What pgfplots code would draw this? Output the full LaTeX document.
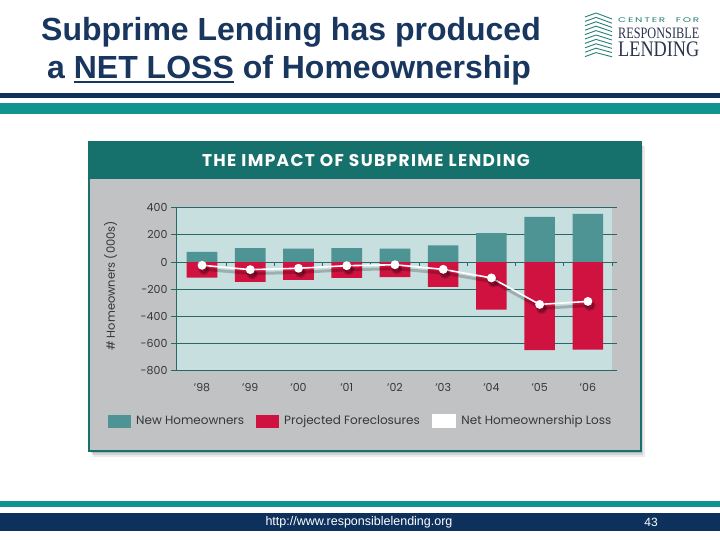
\documentclass[border=0pt]{standalone}
\usepackage{fontspec}
\setmainfont{Liberation Sans}
\newfontfamily\futura{Poppins}
\newfontfamily\futuraspaced[LetterSpace=8]{Poppins}
\newfontfamily\logoserif{Liberation Serif}
\usepackage{pgfplots}
\pgfplotsset{compat=1.18}
\definecolor{navy}{RGB}{14,48,92}
\definecolor{titlenavy}{RGB}{24,54,94}
\definecolor{bandteal}{RGB}{16,148,144}
\definecolor{headteal}{RGB}{22,112,108}
\definecolor{panelgray}{RGB}{192,194,195}
\definecolor{plotbg}{RGB}{200,223,223}
\definecolor{gridc}{RGB}{42,104,104}
\definecolor{tealbar}{RGB}{78,148,148}
\definecolor{redbar}{RGB}{208,18,64}
\definecolor{ticktext}{RGB}{55,55,55}
\definecolor{logonavy}{RGB}{44,52,78}
\definecolor{logoteal}{RGB}{40,128,118}
\begin{document}
\begin{tikzpicture}[x=1pt,y=1pt]
\useasboundingbox (0,0) rectangle (720,540);
\fill[white] (0,0) rectangle (720,540);
% title
\node[anchor=base, text=titlenavy, font=\fontsize{32}{36}\selectfont\bfseries] at (291,499) {Subprime Lending has produced};
\node[anchor=base, text=titlenavy, font=\fontsize{32}{36}\selectfont\bfseries] at (289,461) {a {\setbox0\hbox{NET LOSS}\rlap{\rule[-4.5pt]{\wd0}{2.2pt}}\box0} of Homeownership};
% logo
\foreach \i in {0,...,9}{
  \draw[logoteal, line width=0.9pt] (585,{523-\i*4.4}) -- (596,{527-\i*4.4}) -- (612,{521-\i*4.4+\i*0.2});
}
\node[anchor=north west, inner sep=0pt, align=left, font=\fontsize{1}{1}\selectfont] at (618,522.7) {%
  \textcolor{logoteal}{\resizebox{81pt}{4.8pt}{\futura C\,E\,N\,T\,E\,R\quad F\,O\,R}}\\[5pt]
  \textcolor{logonavy}{\resizebox{81pt}{10.5pt}{\logoserif RESPONSIBLE}}\\[2pt]
  \textcolor{logonavy}{\resizebox{81pt}{14.5pt}{\logoserif LENDIN\smash{G}}}};
% header bands
\fill[navy] (0,442) rectangle (720,447);
\fill[bandteal] (0,426) rectangle (720,437);
% footer bands
\fill[bandteal] (0,33) rectangle (720,39);
\fill[navy] (0,9) rectangle (720,27);
\node[text=white, font=\fontsize{12.5}{14}\selectfont] at (359,18) {http://www.responsiblelending.org};
\node[text=white, font=\fontsize{12}{14}\selectfont] at (651,18) {43};
% panel shadow
\fill[black, opacity=0.08] (93,83) rectangle (645,394);
\fill[black, opacity=0.10] (92,85) rectangle (643,395);
\fill[black, opacity=0.14] (91,87) rectangle (642,396);
% panel
\fill[panelgray, draw=headteal, line width=1.2pt] (89,89) rectangle (641,398);
\fill[headteal] (89,361) rectangle (641,398);
\node[text=white, font=\futuraspaced\bfseries\fontsize{17}{20}\selectfont] at (366,379) {THE IMPACT OF SUBPRIME LENDING};
\begin{axis}[
  at={(176pt,169.3pt)}, anchor=south west, scale only axis,
  width=436pt, height=163pt,
  xmin=-0.54, xmax=8.5, ymin=-800, ymax=400,
  ytick={-800,-600,...,400},
  xtick={0,...,8},
  xticklabels={’98,’99,’00,’01,’02,’03,’04,’05,’06},
  ymajorgrids, grid style={color=gridc, line width=0.9pt},
  axis line style={draw=none},
  axis background/.style={fill=plotbg},
  tick align=outside, major tick length=5pt,
  ytick style={draw=gridc, line width=0.8pt},
  xtick style={draw=none},
  /pgf/number format/assume math mode=true,
  tick label style={font=\futura\fontsize{11}{13}\selectfont, text=ticktext},
  xticklabel style={yshift=-4pt},
  ylabel={\# Homeowners (000s)},
  every axis y label/.style={at={(axis description cs:-0.15,0.52)}, rotate=90, anchor=center,
    font=\futura\fontsize{11.5}{13}\selectfont, text=ticktext},
  clip=false,
  legend columns=3,
  legend style={at={(axis description cs:-0.163,-0.309)}, anchor=west, draw=none, fill=none,
    font=\futura\fontsize{12}{14}\selectfont, text=ticktext,
    /tikz/every odd column/.append style={column sep=3pt},
    /tikz/every even column/.append style={column sep=10pt}},
]
\draw[gridc, line width=1pt] (rel axis cs:0,0) -- (rel axis cs:0,1);
\addplot[ybar, bar width=30.6pt, bar shift=0pt, fill=tealbar, draw=none,
  legend image code/.code={\fill[tealbar] (0pt,-6.5pt) rectangle (23pt,6.5pt);}]
  coordinates {(0,75) (1,102) (2,98) (3,102) (4,98) (5,122) (6,212) (7,332) (8,354)};
\addlegendentry{New Homeowners}
\addplot[ybar, bar width=30.6pt, bar shift=0pt, fill=redbar, draw=none,
  legend image code/.code={\fill[redbar] (0pt,-6.5pt) rectangle (23pt,6.5pt);}]
  coordinates {(0,-115) (1,-146) (2,-132) (3,-117) (4,-112) (5,-183) (6,-351) (7,-649) (8,-644)};
\addlegendentry{Projected Foreclosures}
\pgfplotsinvokeforeach{0.5,1.5,2.5,3.5,4.5,5.5,6.5,7.5,8.5}{
  \draw[gridc, line width=1pt] (axis cs:#1,0) -- (axis cs:#1,-28);
}
\addplot[forget plot, draw=black, opacity=0.22, line width=3pt, shift={(2pt,-4pt)},
  mark=*, mark size=4pt, mark options={fill=black, draw=none}]
  coordinates {(0,-24) (1,-56) (2,-46) (3,-27) (4,-20) (5,-54) (6,-117) (7,-312) (8,-290)};
\addplot[draw=white, line width=1.6pt, mark=*, mark size=3.6pt, mark options={fill=white, draw=white},
  legend image code/.code={\fill[white] (0pt,-6.5pt) rectangle (23pt,6.5pt);}]
  coordinates {(0,-24) (1,-56) (2,-46) (3,-27) (4,-20) (5,-54) (6,-117) (7,-312) (8,-290)};
\addlegendentry{Net Homeownership Loss}
\end{axis}
\end{tikzpicture}
\end{document}
